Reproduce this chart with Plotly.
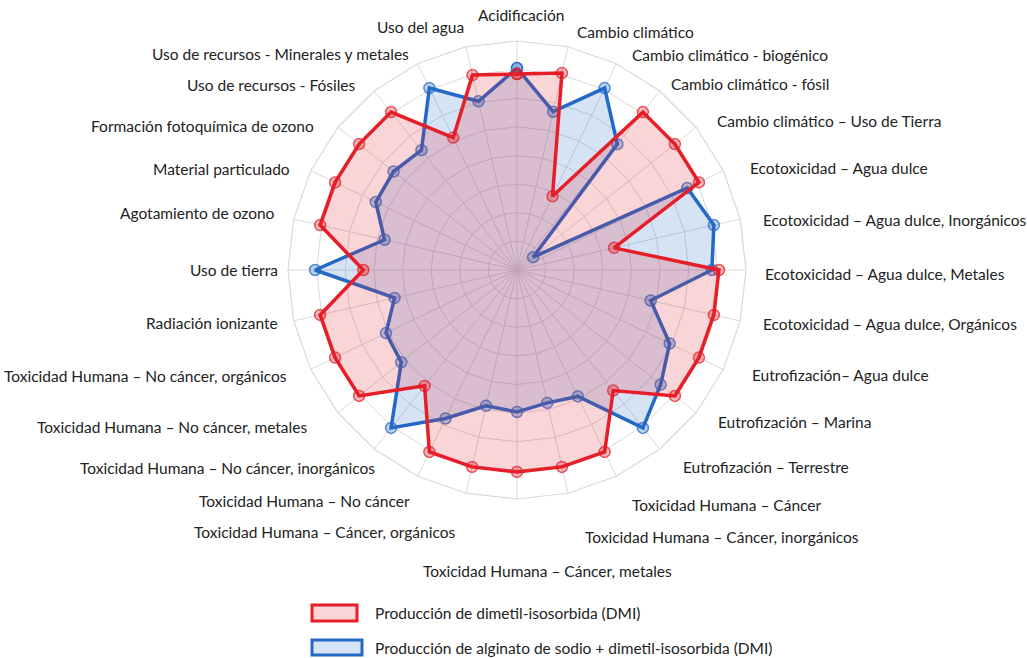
import plotly.graph_objects as go

categories = [
    "Acidificación",
    "Cambio climático",
    "Cambio climático - biogénico",
    "Cambio climático - fósil",
    "Cambio climático – Uso de Tierra",
    "Ecotoxicidad – Agua dulce",
    "Ecotoxicidad – Agua dulce, Inorgánicos",
    "Ecotoxicidad – Agua dulce, Metales",
    "Ecotoxicidad – Agua dulce, Orgánicos",
    "Eutrofización– Agua dulce",
    "Eutrofización – Marina",
    "Eutrofización – Terrestre",
    "Toxicidad Humana – Cáncer",
    "Toxicidad Humana – Cáncer, inorgánicos",
    "Toxicidad Humana – Cáncer, metales",
    "Toxicidad Humana – Cáncer, orgánicos",
    "Toxicidad Humana – No cáncer",
    "Toxicidad Humana – No cáncer, inorgánicos",
    "Toxicidad Humana – No cáncer, metales",
    "Toxicidad Humana – No cáncer, orgánicos",
    "Radiación ionizante",
    "Uso de tierra",
    "Agotamiento de ozono",
    "Material particulado",
    "Formación fotoquímica de ozono",
    "Uso de recursos - Fósiles",
    "Uso de recursos - Minerales y metales",
    "Uso del agua",
]

# Relative impact (%), max of each category = 100
dmi = [97, 100, 40.5, 100, 100, 100, 49.3, 100, 100, 100, 100, 76.4, 100, 100,
       100, 100, 100, 73.4, 100, 100, 100, 76.1, 100, 100, 100, 100, 72.8, 99]
alginato_dmi = [100, 80.4, 100, 79.7, 10.2, 93.6, 100, 96.5, 67.9, 83.9, 91, 100, 69.5, 67.5,
                70.3, 69, 81.6, 100, 73.3, 72, 62.2, 100, 67.3, 77.6, 78.2, 75.9, 100, 85.7]

series_names = [
    "Producción de dimetil-isosorbida (DMI)",
    "Producción de alginato de sodio + dimetil-isosorbida (DMI)",
]

# ---------------- layout / style ----------------
W, H = 1027, 658
CX, CY, R = 517, 270, 229          # polar centre and outer radius (px)
RMAX = 113.4                        # radial value at the outer ring
NRINGS = 8

RED = (230, 30, 40)
BLUE = (35, 105, 200)
FONT = "Lato"
FSIZE = 15.5
TXT = "#222222"
GRID = "#d9d9d9"


def rgba(c, a):
    return f"rgba({c[0]},{c[1]},{c[2]},{a})"


fig = go.Figure()

# blue series drawn first (red fill lies over it, as in the reference)
for vals, col, name in [(alginato_dmi, BLUE, series_names[1]), (dmi, RED, series_names[0])]:
    fig.add_trace(go.Scatterpolar(
        r=vals + vals[:1],
        theta=categories + categories[:1],
        mode="lines+markers",
        fill="toself",
        fillcolor=rgba(col, 0.19),
        line=dict(color=rgba(col, 1), width=3.5),
        marker=dict(symbol="circle", size=11, color=rgba(col, 0.3),
                    line=dict(color=rgba(col, 0.75), width=1.5)),
        name=name,
        showlegend=False,
    ))

fig.update_layout(
    width=W, height=H,
    margin=dict(l=0, r=0, t=0, b=0),
    paper_bgcolor="white",
    font=dict(family=FONT, size=FSIZE, color=TXT),
    polar=dict(
        domain=dict(x=[(CX - R) / W, (CX + R) / W],
                    y=[(H - CY - R) / H, (H - CY + R) / H]),
        bgcolor="white",
        gridshape="linear",
        radialaxis=dict(range=[0, RMAX], tickmode="array",
                        tickvals=[RMAX * i / NRINGS for i in range(1, NRINGS + 1)],
                        showticklabels=False, ticks="", showline=False,
                        gridcolor=GRID, gridwidth=1.2),
        angularaxis=dict(direction="clockwise", rotation=90,
                         showticklabels=False, ticks="",
                         showline=True, linecolor=GRID, linewidth=1.2,
                         gridcolor=GRID, gridwidth=1.2),
    ),
)

# category labels (placement in pixels: x, y, anchor)
label_pos = [
    (521, 15, "center"), (575, 32, "left"), (630, 55, "left"), (669, 84, "left"),
    (715, 121, "left"), (748, 168, "left"), (761, 220, "left"), (763, 274, "left"),
    (761, 324, "left"), (750, 375, "left"), (716, 422, "left"), (681, 467, "left"),
    (630, 505, "left"), (583, 537, "left"), (421, 571, "left"), (457, 532, "right"),
    (412, 501, "right"), (377, 468, "right"), (309, 427, "right"), (289, 376, "right"),
    (280, 323, "right"), (280, 270, "right"), (277, 213, "right"), (292, 169, "right"),
    (316, 126, "right"), (358, 85, "right"), (411, 54, "right"), (466, 27, "right"),
]
for text, (px, py, anc) in zip(categories, label_pos):
    fig.add_annotation(x=px / W, y=1 - py / H, xref="paper", yref="paper",
                       text=text, showarrow=False, xanchor=anc, yanchor="middle",
                       font=dict(family=FONT, size=FSIZE, color=TXT))

# legend (manual, boxed swatches)
legend_items = [
    (series_names[0], RED, (312, 605, 357, 621), 613),
    (series_names[1], BLUE, (312, 640, 362, 655), 648),
]
for name, col, (x0, y0, x1, y1), ty in legend_items:
    fig.add_shape(type="rect", xref="paper", yref="paper",
                  x0=x0 / W, x1=x1 / W, y0=1 - y1 / H, y1=1 - y0 / H,
                  line=dict(color=rgba(col, 1), width=3), fillcolor=rgba(col, 0.19))
    fig.add_annotation(x=373 / W, y=1 - ty / H, xref="paper", yref="paper",
                       text=name, showarrow=False, xanchor="left", yanchor="middle",
                       font=dict(family=FONT, size=FSIZE, color=TXT))

fig.write_html(
    "out.html",
    config={"displayModeBar": False},
    post_script="document.body.style.margin='0';document.body.style.overflow='hidden';",
)
